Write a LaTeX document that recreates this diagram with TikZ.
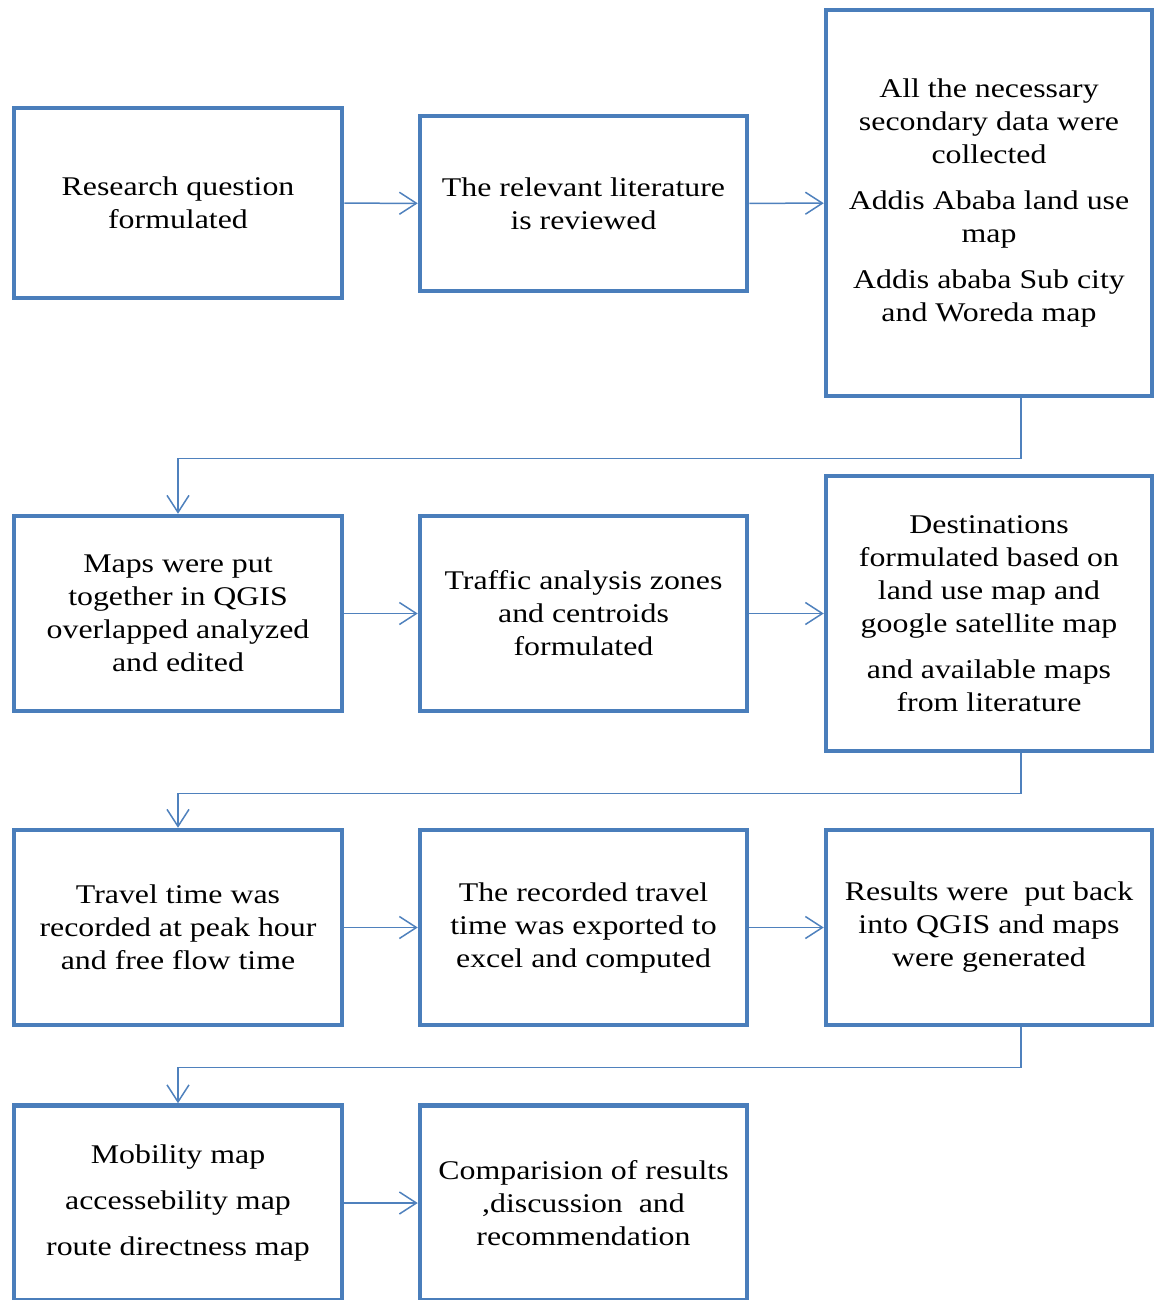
\documentclass[tikz,border=0pt]{standalone}
\usepackage{fontspec}
\setmainfont{Liberation Serif}[FakeStretch=1.18]
\usetikzlibrary{arrows.meta}
\definecolor{boxblue}{HTML}{4A7EBB}
\definecolor{lineblue}{HTML}{4F81BD}
\begin{document}
\begin{tikzpicture}[x=1pt,y=-1pt]
        \useasboundingbox (0,0) rectangle (1155,1300);
        \clip (0,0) rectangle (1155,1300);
        \begin{scope}[every node/.style={rectangle, draw=boxblue, line width=4.5pt,
            align=center, inner sep=0pt, font=\fontsize{27}{33}\selectfont}]
            \node[minimum width=328pt, minimum height=190pt] (b1) at (178, 203) {Research question\\formulated};
            \node[minimum width=327pt, minimum height=175pt] (b2) at (583.5, 203.5) {The relevant literature\\is reviewed};
            \node[minimum width=326pt, minimum height=386pt] (b3) at (989, 203) {All the necessary\\secondary data were\\collected\\[13pt]Addis Ababa land use\\map\\[13pt]Addis ababa Sub city\\and Woreda map};
            \node[minimum width=328pt, minimum height=195pt] (b4) at (178, 613.5) {Maps were put\\together in QGIS\\overlapped analyzed\\and edited};
            \node[minimum width=327pt, minimum height=195pt] (b5) at (583.5, 613.5) {Traffic analysis zones\\and centroids\\formulated};
            \node[minimum width=326pt, minimum height=275pt] (b6) at (989, 613.5) {Destinations\\formulated based on\\land use map and\\google satellite map\\[13pt]and available maps\\from literature};
            \node[minimum width=328pt, minimum height=195pt] (b7) at (178, 927.5) {Travel time was\\recorded at peak hour\\and free flow time};
            \node[minimum width=327pt, minimum height=195pt] (b8) at (583.5, 927.5) {The recorded travel\\time was exported to\\excel and computed};
            \node[minimum width=326pt, minimum height=195pt] (b9) at (989, 927.5) {Results were\ \ put back\\into QGIS and maps\\were generated};
            \node[minimum width=328pt, minimum height=195pt] (b10) at (178, 1203) {Mobility map\\[13pt]accessebility map\\[13pt]route directness map};
            \node[minimum width=327pt, minimum height=195pt] (b11) at (583.5, 1203) {Comparision of results\\,discussion\ \ and\\recommendation};
        \end{scope}

        \begin{scope}[
            every edge/.style={draw=lineblue, line width=1.5pt},
            arr/.style={-{Straight Barb[length=17pt, width=22pt, line width=1.5pt]}}]
            \path [arr] (b1) edge (b2);
            \path [arr] (b2) edge (b3);
            \path [arr] (b4) edge (b5);
            \path [arr] (b5) edge (b6);
            \path [arr] (b7) edge (b8);
            \path [arr] (b8) edge (b9);
            \path [arr] (b10) edge (b11);

            \draw [arr, draw=lineblue, line width=1.5pt] ([xshift=32pt]b3.south) -- ++(0,60) -| (b4.north);
            \draw [arr, draw=lineblue, line width=1.5pt] ([xshift=32pt]b6.south) -- ++(0,40) -| (b7.north);
            \draw [arr, draw=lineblue, line width=1.5pt] ([xshift=32pt]b9.south) -- ++(0,40) -| (b10.north);
        \end{scope}
        \end{tikzpicture}
\end{document}
